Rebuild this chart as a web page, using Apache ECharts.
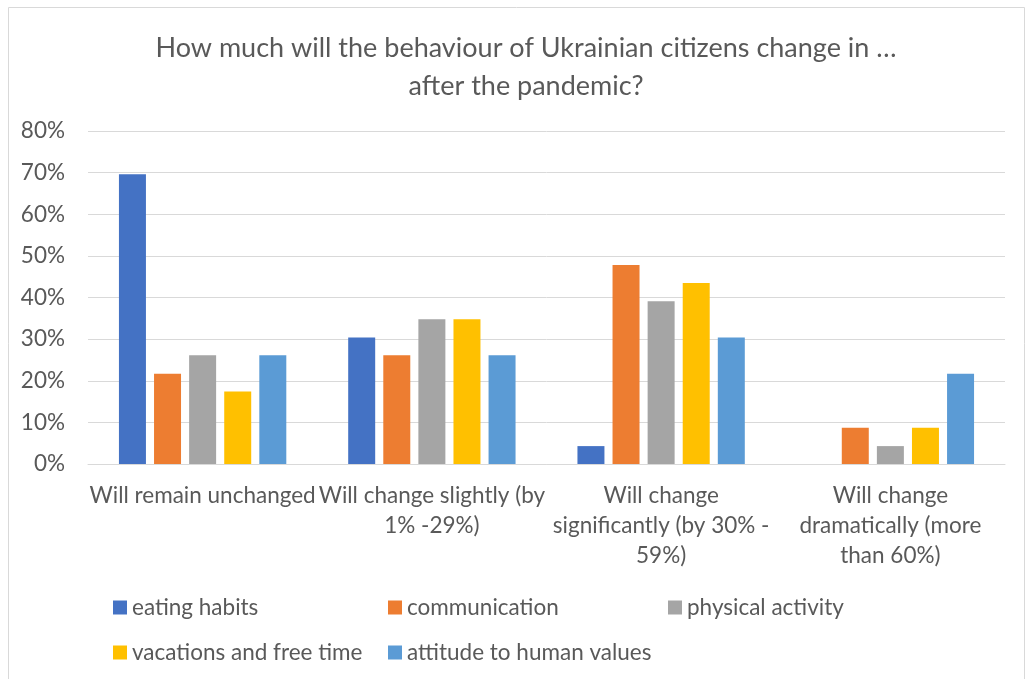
<!DOCTYPE html>
<html>
<head>
<meta charset="utf-8">
<script src="https://cdn.jsdelivr.net/npm/echarts@6/dist/echarts.min.js"></script>
<style>
  html, body { margin: 0; padding: 0; background: #fff; }
  #chart { width: 1026px; height: 679px; }
</style>
</head>
<body>
<div id="chart"></div>
<script>
// categories (x axis), wrapped the way the original shows them
var categories = [
  'Will remain unchanged',
  'Will change slightly (by\n1% -29%)',
  'Will change\nsignificantly (by 30% -\n59%)',
  'Will change\ndramatically (more\nthan 60%)'
]
var seriesNames = ['eating habits', 'communication', 'physical activity', 'vacations and free time', 'attitude to human values']
// values in percent
var eatingHabits = [69.6, 30.4, 4.3, 0]
var communication = [21.7, 26.1, 47.8, 8.7]
var physicalActivity = [26.1, 34.8, 39.1, 4.3]
var vacations = [17.4, 34.8, 43.5, 8.7]
var humanValues = [26.1, 26.1, 30.4, 21.7]
var yTicks = [0, 10, 20, 30, 40, 50, 60, 70, 80]

var colors = ['#4472C4', '#ED7D31', '#A5A5A5', '#FFC000', '#5B9BD5']
var font = 'Lato'
var textColor = '#595959'
var labelSize = 22.5

var chart = echarts.init(document.getElementById('chart'))

// legend laid out in columns like the original
var legendSpots = [
  { left: 113, top: 596 },
  { left: 388, top: 596 },
  { left: 668, top: 596 },
  { left: 113, top: 641 },
  { left: 388, top: 641 }
]
var legends = seriesNames.map(function (name, i) {
  return {
    data: [name],
    left: legendSpots[i].left,
    top: legendSpots[i].top,
    padding: 0,
    icon: 'rect',
    itemWidth: 14,
    itemHeight: 14,
    textStyle: { color: textColor, fontFamily: font, fontSize: labelSize }
  }
})

var allData = [eatingHabits, communication, physicalActivity, vacations, humanValues]

chart.setOption({
  animation: false,
  color: colors,
  title: {
    text: 'How much will the behaviour of Ukrainian citizens change in …\nafter the pandemic?',
    left: 521,
    top: 24,
    textAlign: 'center',
    textStyle: {
      color: textColor,
      fontFamily: font,
      fontSize: 27,
      fontWeight: 'normal',
      lineHeight: 38
    }
  },
  legend: legends,
  graphic: [
    {
      type: 'rect',
      shape: { x: 8.5, y: 7.5, width: 1016, height: 700 },
      style: { fill: 'none', stroke: '#D9D9D9', lineWidth: 1 },
      silent: true
    }
  ],
  grid: {
    left: 88,
    right: 21,
    top: 131,
    bottom: 215
  },
  xAxis: {
    type: 'category',
    data: categories,
    axisLine: { lineStyle: { color: '#D9D9D9', width: 1 } },
    axisTick: { show: false },
    axisLabel: {
      interval: 0,
      color: textColor,
      fontFamily: font,
      fontSize: labelSize,
      lineHeight: 30,
      margin: 17
    }
  },
  yAxis: {
    type: 'value',
    min: yTicks[0],
    max: yTicks[yTicks.length - 1],
    interval: 10,
    axisLine: { show: false },
    axisTick: { show: false },
    splitLine: { lineStyle: { color: '#D9D9D9', width: 1 } },
    axisLabel: {
      color: textColor,
      fontFamily: font,
      fontSize: labelSize,
      margin: 23,
      formatter: '{value}%'
    }
  },
  series: seriesNames.map(function (name, i) {
    return {
      name: name,
      type: 'bar',
      data: allData[i],
      barGap: '30%',
      barCategoryGap: '27%'
    }
  })
})
</script>
</body>
</html>
